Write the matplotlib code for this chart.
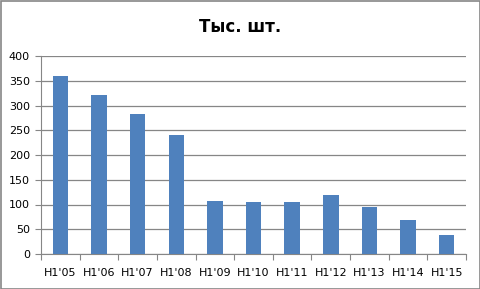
import matplotlib
matplotlib.use("Agg")
import matplotlib.pyplot as plt
from matplotlib.patches import Rectangle

categories = ["H1'05", "H1'06", "H1'07", "H1'08", "H1'09", "H1'10", "H1'11", "H1'12", "H1'13", "H1'14", "H1'15"]
values = [360, 321, 283, 240, 107, 105, 105, 119, 95, 69, 38]
yticks = [0, 50, 100, 150, 200, 250, 300, 350, 400]
title = "Тыс. шт."

W, H = 481, 289
fig = plt.figure(figsize=(W / 100, H / 100), dpi=100)
ax = fig.add_axes([41 / W, 1 - 254 / H, (466 - 41) / W, (254 - 56) / H])

x = list(range(len(categories)))
ax.bar(x, values, width=0.4, color="#4F81BD", zorder=3)
ax.set_xlim(-0.5, len(categories) - 0.5)
ax.set_ylim(0, 400)
ax.set_yticks(yticks)
ax.set_yticklabels([str(v) for v in yticks], fontsize=8, family="DejaVu Sans")
ax.yaxis.grid(True, color="#868686", linewidth=0.9, zorder=0)
ax.tick_params(axis="y", length=4, color="#868686", pad=4)
ax.set_xticks([i - 0.5 for i in range(len(categories) + 1)], minor=False)
ax.set_xticklabels([])
ax.tick_params(axis="x", length=4, color="#868686", direction="out")
ax.set_xticks(x, minor=True)
ax.set_xticklabels(categories, minor=True, fontsize=8, family="DejaVu Sans")
ax.tick_params(axis="x", which="minor", length=0, pad=10)
for s in ["top", "right"]:
    ax.spines[s].set_visible(False)
ax.spines["left"].set_color("#868686")
ax.spines["bottom"].set_color("#868686")
ax.set_facecolor("white")

fig.text(0.5, 1 - 27 / H, title, ha="center", va="center", fontsize=12, fontweight="bold", family="DejaVu Sans")
fig.patches.append(Rectangle((0.5 / W, 0.5 / H), 1 - 1.5 / W, 1 - 1.5 / H, transform=fig.transFigure,
                             fill=False, edgecolor="#868686", linewidth=1.2))
fig.savefig("out.png", dpi=100)
